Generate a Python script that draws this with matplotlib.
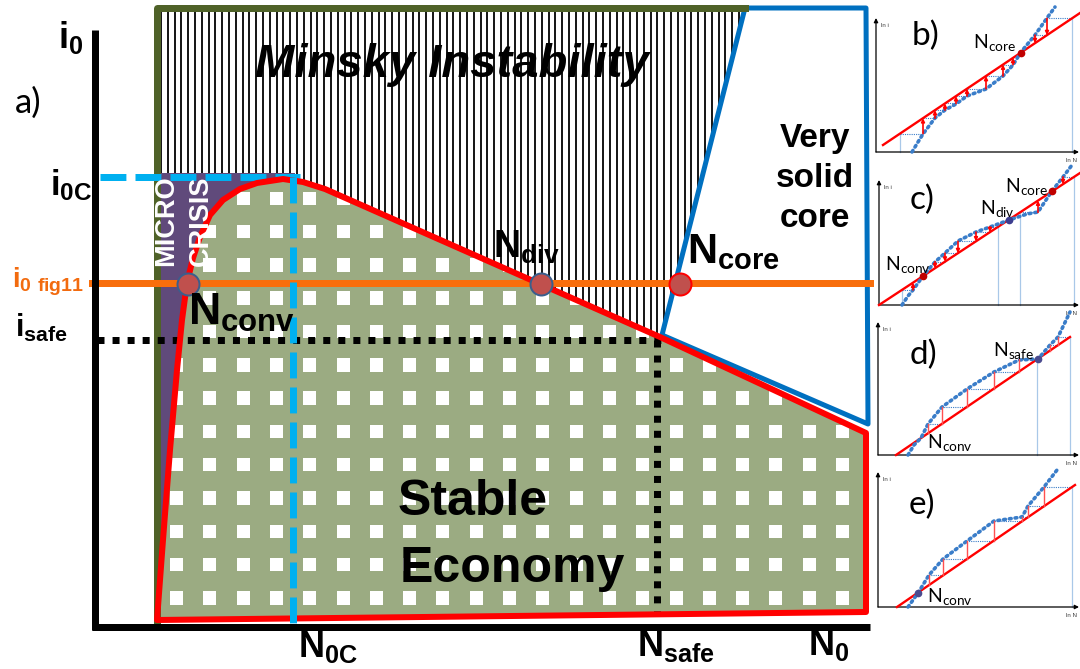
import numpy as np
import matplotlib
matplotlib.use('Agg')
import matplotlib.pyplot as plt
from matplotlib.patches import Polygon, Rectangle
from matplotlib.collections import PatchCollection

plt.rcParams['font.family'] = ['Liberation Sans', 'DejaVu Sans']
plt.rcParams['mathtext.fontset'] = 'custom'
plt.rcParams['mathtext.rm'] = 'Lato'
plt.rcParams['mathtext.bf'] = 'Liberation Sans:bold'

PX = 0.72  # pixel -> point at dpi 100

# ---------------- main diagram (pixel coordinates of the 1080x669 picture)
# red boundary of the stable economy
stable_x = [157, 163, 170, 177, 182, 187, 193, 200, 210, 223, 240, 257, 283, 303, 325, 350, 660, 866, 866]
stable_y = [620, 540, 450, 370, 320, 283, 258, 237, 215, 200, 189, 183, 179, 182, 189, 200, 337, 433, 612]
# very solid core (blue)
core_x = [745, 866, 868, 662]
core_y = [8, 8, 424, 335]
# reference levels
i0c_level = 177
i0fig_level = 283
isafe_level = 340
n0c_pos = 293
nsafe_pos = 657
# equilibria on the orange line
eq_x = [188, 541, 680]
eq_names = ['conv', 'div', 'core']

# ---------------- small cobweb panels b) - e)
b_line_x, b_line_y = [883, 1080], [145, 13]
b_curve_x = [912, 918, 923, 935, 945, 956, 967, 986, 1003, 1013, 1021, 1035, 1047, 1055]
b_curve_y = [152, 142, 134, 118, 110, 104, 96, 89, 76, 65, 52, 35, 18, 7]
b_webs = [[900, 923, 935, 945, 956, 967, 986, 1003, 1013], [1072, 1047, 1035]]
b_dots = [1021]

c_line_x, c_line_y = [879, 1080], [305, 173]
c_curve_x = [902, 908, 913, 923, 935, 945, 958, 976, 990, 1009, 1027, 1038, 1052, 1063, 1072]
c_curve_y = [305, 296, 290, 276, 262, 253, 241, 232, 227, 220, 214, 212, 191, 177, 165]
c_webs = [[902, 913], [998, 990, 976, 958, 945, 935], [1020, 1038], [1074, 1063]]
c_dots = [923, 1009, 1052]

d_line_x, d_line_y = [896, 1070], [455, 337]
d_curve_x = [908, 914, 921, 928, 942, 967, 994, 1019, 1038, 1050, 1058, 1070]
d_curve_y = [455, 445, 438, 424, 407, 389, 372, 360, 359, 345, 337, 312]
d_webs = [[1037, 1019, 994, 967, 942, 928], [1070, 1058, 1050]]
d_dots = [1038]

e_line_x, e_line_y = [897, 1075], [607, 485]
e_curve_x = [908, 918, 929, 943, 967, 994, 1022, 1028, 1044, 1057]
e_curve_y = [607, 593, 575, 559, 541, 521, 517, 506, 487, 470]
e_webs = [[1072, 1044, 1028, 1022, 994, 967, 943, 929]]
e_dots = [918]

GREEN = '#9bab82'
PURPLE = '#604a7b'
RED = '#ff0000'
BLUE = '#0070c0'
OLIVE = '#4f6228'
ORANGE = '#f86e0c'
CYAN = '#00b0f0'

fig = plt.figure(figsize=(10.8, 6.69), dpi=100)
ax = fig.add_axes([0, 0, 1, 1])
ax.set_xlim(0, 1080)
ax.set_ylim(669, 0)
ax.axis('off')

# Minsky hatching
minsky = Polygon([(157, 8), (745, 8), (662, 337), (157, 337)], closed=True,
                 facecolor='white', edgecolor='none', zorder=0.5)
ax.add_patch(minsky)
hatch = ax.vlines(np.arange(161, 746, 6.8), 8, 340, color='black', lw=1.8 * PX, zorder=1)
hatch.set_clip_path(minsky)

# stable economy: green with white squares
stable_pts = np.column_stack([stable_x, stable_y])
green = Polygon(stable_pts, closed=True, facecolor=GREEN, edgecolor='none', zorder=2)
ax.add_patch(green)
squares = [Rectangle((cx - 6.5, cy - 6.5), 13, 13.5)
           for cx in np.arange(176.5, 870, 33.3) for cy in np.arange(198, 620, 33.3)]
sq = PatchCollection(squares, facecolor='white', edgecolor='none', zorder=3)
ax.add_collection(sq)
sq.set_clip_path(green)

# micro crisis (purple)
left = np.array(stable_x) <= 283
micro_pts = np.vstack([[(159, 620), (159, 173), (295, 173), (295, 181)],
                       stable_pts[left][::-1]])
ax.add_patch(Polygon(micro_pts, closed=True, facecolor=PURPLE, edgecolor='none', zorder=3.5))

# very solid core
ax.add_patch(Polygon(np.column_stack([core_x, core_y]), closed=True, facecolor='white',
                     edgecolor=BLUE, lw=5 * PX, joinstyle='round', zorder=4))

# olive frame of the Minsky area
ax.plot([157, 157, 745], [620, 8, 8], color=OLIVE, lw=7 * PX, solid_joinstyle='round', zorder=4.5)

# reference lines
ax.plot([100, 300], [i0c_level, i0c_level], color=CYAN, lw=7 * PX, ls=(0, (3.7, 1.3)), zorder=5)
ax.plot([n0c_pos, n0c_pos], [i0c_level, 628], color=CYAN, lw=7 * PX, ls=(0, (3.7, 1.3)), zorder=6.5)
ax.plot([97, 663], [isafe_level, isafe_level], color='black', lw=7 * PX, ls=(0, (1, 1.15)), zorder=5)
ax.plot([nsafe_pos, nsafe_pos], [isafe_level, 612], color='black', lw=7 * PX, ls=(0, (1, 1.15)), zorder=5)
ax.plot([92, 870], [i0fig_level, i0fig_level], color=ORANGE, lw=7 * PX, zorder=5.5)

# red boundary
ax.add_patch(Polygon(stable_pts, closed=True, facecolor='none', edgecolor=RED,
                     lw=6 * PX, joinstyle='round', zorder=6))

# axes
ax.plot([95, 95], [30, 630], color='black', lw=7 * PX, solid_capstyle='butt', zorder=7)
ax.plot([92, 870], [627, 627], color='black', lw=7 * PX, solid_capstyle='butt', zorder=7)

# equilibria markers
for x, name in zip(eq_x, eq_names):
    edge = RED if name == 'core' else '#3b5e8c'
    ax.plot(x, i0fig_level + 1, 'o', ms=22 * PX, mfc='#c0504d', mec=edge, mew=2 * PX, zorder=8)

# texts
ax.text(255, 77, 'Minsky Instability', fontsize=34, fontweight='bold', fontstyle='italic',
        ha='left', va='baseline', zorder=9)
for line, yb in zip(['Very', 'solid', 'core'], [147, 187, 227]):
    ax.text(815, yb, line, fontsize=24, fontweight='bold', ha='center', va='baseline', zorder=9)
ax.text(398, 515, 'Stable', fontsize=36, fontweight='bold', ha='left', va='baseline', zorder=9)
ax.text(400, 582, 'Economy', fontsize=36, fontweight='bold', ha='left', va='baseline', zorder=9)
ax.text(166, 221, 'MICRO', fontsize=19.5, fontweight='bold', color='white', rotation=90,
        ha='center', va='center', zorder=9)
ax.text(201, 221, 'CRISIS', fontsize=19.5, fontweight='bold', color='white', rotation=90,
        ha='center', va='center', zorder=9)

ax.text(188, 325, r'$\mathbf{N_{conv}}$', fontsize=32, ha='left', va='baseline', zorder=9)
ax.text(493, 258, r'$\mathbf{N_{div}}$', fontsize=27, ha='left', va='baseline', zorder=9)
ax.text(687, 263, r'$\mathbf{N_{core}}$', fontsize=30, ha='left', va='baseline', zorder=9)

ax.text(58, 48, r'$\mathbf{i_0}$', fontsize=26, ha='left', va='baseline')
ax.text(50, 195, r'$\mathbf{i_{0C}}$', fontsize=25, ha='left', va='baseline')
ax.text(12, 287, r'$\mathbf{i_{0\ fig11}}$', fontsize=20, color='#f26b0f', ha='left', va='baseline')
ax.text(15, 337, r'$\mathbf{i_{safe}}$', fontsize=22, ha='left', va='baseline')
ax.text(15, 113, 'a)', fontsize=25, family='Lato', ha='left', va='baseline')

ax.text(298, 657, r'$\mathbf{N_{0C}}$', fontsize=26, ha='left', va='baseline')
ax.text(637, 656, r'$\mathbf{N_{safe}}$', fontsize=26, ha='left', va='baseline')
ax.text(808, 655, r'$\mathbf{N_0}$', fontsize=26, ha='left', va='baseline')

# ---------------- cobweb panels
panels = [
    dict(lab='b)', labxy=(925, 36), ax_x=876, ax_y=152, top=18,
         lx=b_line_x, ly=b_line_y, cx=b_curve_x, cy=b_curve_y, webs=b_webs, heads=True,
         dots=b_dots, dotc=['#c00000'],
         names=[(r'$\mathrm{N_{core}}$', 973, 48)]),
    dict(lab='c)', labxy=(922, 200), ax_x=879, ax_y=305, top=180,
         lx=c_line_x, ly=c_line_y, cx=c_curve_x, cy=c_curve_y, webs=c_webs, heads=True,
         dots=c_dots, dotc=['#c00000', '#3d3d8f', '#c00000'],
         names=[(r'$\mathrm{N_{conv}}$', 885, 270), (r'$\mathrm{N_{div}}$', 980, 214),
                (r'$\mathrm{N_{core}}$', 1005, 192)]),
    dict(lab='d)', labxy=(923, 355), ax_x=878, ax_y=455, top=322,
         lx=d_line_x, ly=d_line_y, cx=d_curve_x, cy=d_curve_y, webs=d_webs, heads=False,
         dots=d_dots, dotc=['#4b4b8f'],
         names=[(r'$\mathrm{N_{safe}}$', 993, 356), (r'$\mathrm{N_{conv}}$', 927, 448)]),
    dict(lab='e)', labxy=(922, 505), ax_x=878, ax_y=607, top=472,
         lx=e_line_x, ly=e_line_y, cx=e_curve_x, cy=e_curve_y, webs=e_webs, heads=False,
         dots=e_dots, dotc=['#4b4b8f'],
         names=[(r'$\mathrm{N_{conv}}$', 927, 602)]),
]

for p in panels:
    ax0, ay0 = p['ax_x'], p['ax_y']
    arr = dict(arrowstyle='-|>', color='black', lw=0.9, mutation_scale=6, shrinkA=0, shrinkB=0)
    ax.annotate('', xy=(ax0, p['top']), xytext=(ax0, ay0), arrowprops=arr)
    ax.annotate('', xy=(1079, ay0), xytext=(ax0, ay0), arrowprops=arr)
    ax.text(ax0 + 5, p['top'] + 9, 'ln i', fontsize=4.5, color='#404040')
    ax.text(1066, ay0 + 10, 'ln N', fontsize=4.5, color='#404040')
    ax.text(*p['labxy'], p['lab'], fontsize=24, family='Lato', ha='center', va='center')

    ax.plot(p['lx'], p['ly'], color=RED, lw=1.7, zorder=3)
    ax.plot(p['cx'], p['cy'], color='#3a7dc9', lw=2.6, ls=(0, (0.5, 1.1)),
            dash_capstyle='round', zorder=3)
    for web in p['webs']:
        wy = np.interp(web, p['lx'], p['ly'])
        ax.plot([web[0], web[0]], [ay0, wy[0]], color='#a9c8e8', lw=0.9, zorder=2)
        for k in range(1, len(web)):
            ax.plot([web[k - 1], web[k]], [wy[k - 1], wy[k - 1]], color='#3a7dc9',
                    lw=0.8, ls=(0, (1, 1)), zorder=2)
            if p['heads']:
                ax.annotate('', xy=(web[k], wy[k]), xytext=(web[k], wy[k - 1]),
                            arrowprops=dict(arrowstyle='-|>', color=RED, lw=1.2,
                                            mutation_scale=5, shrinkA=0, shrinkB=0), zorder=4)
            else:
                ax.plot([web[k], web[k]], [wy[k - 1], wy[k]], color='#ff5050', lw=1.0, zorder=4)
    dy = np.interp(p['dots'], p['lx'], p['ly'])
    for x, y, c in zip(p['dots'], dy, p['dotc']):
        ax.plot(x, y, 'o', ms=4.5, color=c, zorder=5)
    for txt, x, y in p['names']:
        ax.text(x, y, txt, fontsize=14, ha='left', va='baseline', zorder=6)

fig.savefig('out.png', dpi=100)
